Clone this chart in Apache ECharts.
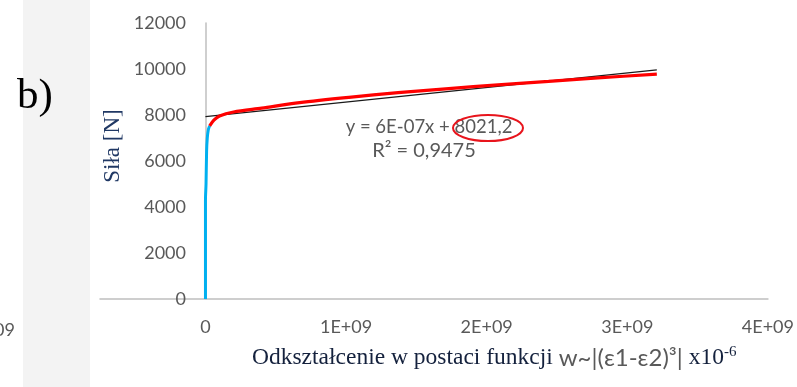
<!DOCTYPE html>
<html>
<head>
    <meta charset="utf-8">
    <title>Siła - odkształcenie</title>
    <script src="https://cdn.jsdelivr.net/npm/echarts@6/dist/echarts.min.js"></script>
    <style>
        html, body { margin: 0; padding: 0; background: #fff; }
        #chart { width: 797px; height: 387px; }
    </style>
</head>
<body>
    <div id="chart"></div>
    <script>
        // dane
        const blueX = [0, 0, 0.004e9, 0.008e9, 0.013e9, 0.02e9, 0.03e9];
        const blueY = [0, 4300, 5000, 6400, 7000, 7350, 7530];
        const redX = [0.03e9, 0.06e9, 0.1e9, 0.2e9, 0.4e9, 0.67e9, 1.02e9, 1.37e9, 1.73e9, 2.08e9, 2.44e9, 2.79e9, 3.21e9];
        const redY = [7530, 7780, 7960, 8130, 8300, 8540, 8770, 8970, 9150, 9310, 9460, 9610, 9780];
        const trendX = [0, 3.21e9];
        const trendY = [7930, 9960];
        const xTickValues = [0, 1e9, 2e9, 3e9, 4e9];
        const xTickLabels = ['0', '1E+09', '2E+09', '3E+09', '4E+09'];
        const yTickLabels = ['0', '2000', '4000', '6000', '8000', '10000', '12000'];

        const pairs = (xs, ys) => xs.map((x, i) => [x, ys[i]]);

        const chart = echarts.init(document.getElementById('chart'));

        const labelStyle = { fontFamily: 'Lato', fontSize: 18, color: '#595959' };

        chart.setOption({
            animation: false,
            backgroundColor: '#fff',
            grid: { left: 100, right: 26, top: 23, bottom: 88 },
            xAxis: {
                type: 'value',
                min: -7.5e8,
                max: 4e9,
                axisLine: { show: true, lineStyle: { color: '#bfbfbf', width: 1.5 } },
                axisTick: { show: false },
                splitLine: { show: false },
                axisLabel: Object.assign({
                    customValues: xTickValues,
                    margin: 19,
                    formatter: v => xTickLabels[xTickValues.indexOf(v)]
                }, labelStyle)
            },
            yAxis: {
                type: 'value',
                min: 0,
                max: 12000,
                interval: 2000,
                axisLine: { show: true, onZero: true, lineStyle: { color: '#bfbfbf', width: 1.5 } },
                axisTick: { show: false },
                splitLine: { show: false },
                // etykiety przy osi w x=0 (przesunięte w prawo)
                axisLabel: Object.assign({
                    margin: -86,
                    formatter: v => yTickLabels[v / 2000]
                }, labelStyle)
            },
            series: [
                {
                    type: 'line',
                    data: pairs(trendX, trendY),
                    showSymbol: false,
                    lineStyle: { color: '#1a1a1a', width: 1.2 },
                    z: 3
                },
                {
                    type: 'line',
                    data: pairs(blueX, blueY),
                    showSymbol: false,
                    smooth: 0.3,
                    lineStyle: { color: '#00b0f0', width: 3 },
                    z: 4
                },
                {
                    type: 'line',
                    data: pairs(redX, redY),
                    showSymbol: false,
                    smooth: 0.3,
                    lineStyle: { color: '#ff0000', width: 3.2 },
                    z: 5
                }
            ],
            graphic: [
                {
                    type: 'rect',
                    shape: { x: 23, y: 0, width: 67, height: 387 },
                    style: { fill: '#f3f3f3' },
                    z: -1
                },
                {
                    type: 'text',
                    x: 17, y: 97,
                    style: {
                        text: 'b)',
                        font: '43px "Liberation Serif"',
                        fill: '#000',
                        verticalAlign: 'middle'
                    }
                },
                {
                    type: 'text',
                    x: 15, y: 330,
                    style: {
                        text: '09',
                        font: '18px Lato',
                        fill: '#595959',
                        align: 'right',
                        verticalAlign: 'middle'
                    }
                },
                {
                    type: 'text',
                    x: 113, y: 146,
                    rotation: Math.PI / 2,
                    style: {
                        text: 'Siła [N]',
                        font: '23px "Liberation Serif"',
                        fill: '#203864',
                        align: 'center',
                        verticalAlign: 'middle'
                    }
                },
                {
                    type: 'text',
                    x: 252, y: 358,
                    style: {
                        text: '{a|Odkształcenie w postaci funkcji }{b|w~|(ε1-ε2)³|}{a| x10}{c|-6}',
                        verticalAlign: 'middle',
                        rich: {
                            a: { font: '23.5px "Liberation Serif"', fill: '#14213d' },
                            b: { font: '24px Lato', fill: '#595959' },
                            c: { font: '15px "Liberation Serif"', fill: '#14213d', padding: [0, 0, 12, 0] }
                        }
                    }
                },
                {
                    type: 'text',
                    x: 429, y: 127,
                    style: {
                        text: 'y = 6E-07x + 8021,2',
                        font: '18.5px Lato',
                        fill: '#595959',
                        align: 'center',
                        verticalAlign: 'middle'
                    }
                },
                {
                    type: 'text',
                    x: 424, y: 151,
                    style: {
                        text: 'R² = 0,9475',
                        font: '20px Lato',
                        fill: '#595959',
                        align: 'center',
                        verticalAlign: 'middle'
                    }
                },
                {
                    type: 'ellipse',
                    shape: { cx: 488, cy: 128, rx: 35, ry: 13 },
                    style: { fill: 'none', stroke: '#e8141c', lineWidth: 2 }
                }
            ]
        });
    </script>
</body>
</html>
